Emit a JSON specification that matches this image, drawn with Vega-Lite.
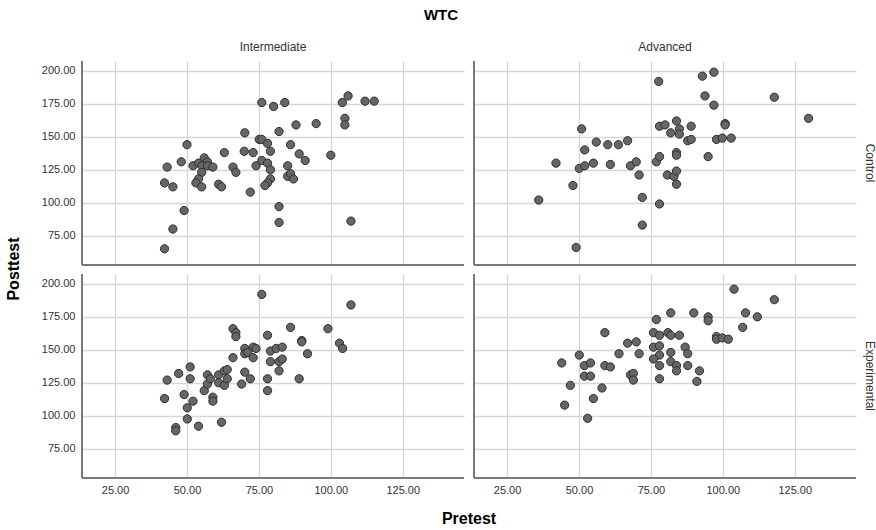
{
  "$schema": "https://vega.github.io/schema/vega-lite/v6.json",
  "background": "white",
  "padding": {"left": 5, "top": 8, "right": 5, "bottom": 5},
  "title": {"text": "WTC", "fontSize": 15, "fontWeight": "bold", "font": "Liberation Sans", "color": "#000000", "anchor": "middle", "offset": 18},
  "datasets": {
    "pts": [
      {"Level":"Intermediate","Group":"Control","Pretest":42.2,"Posttest":65},
      {"Level":"Intermediate","Group":"Control","Pretest":45.1,"Posttest":80},
      {"Level":"Intermediate","Group":"Control","Pretest":49,"Posttest":94},
      {"Level":"Intermediate","Group":"Control","Pretest":42.2,"Posttest":115},
      {"Level":"Intermediate","Group":"Control","Pretest":45.1,"Posttest":112},
      {"Level":"Intermediate","Group":"Control","Pretest":43.1,"Posttest":127},
      {"Level":"Intermediate","Group":"Control","Pretest":48,"Posttest":131},
      {"Level":"Intermediate","Group":"Control","Pretest":50,"Posttest":144},
      {"Level":"Intermediate","Group":"Control","Pretest":52.1,"Posttest":128},
      {"Level":"Intermediate","Group":"Control","Pretest":54,"Posttest":130},
      {"Level":"Intermediate","Group":"Control","Pretest":56,"Posttest":134},
      {"Level":"Intermediate","Group":"Control","Pretest":57.1,"Posttest":131},
      {"Level":"Intermediate","Group":"Control","Pretest":55.2,"Posttest":128},
      {"Level":"Intermediate","Group":"Control","Pretest":57.1,"Posttest":128},
      {"Level":"Intermediate","Group":"Control","Pretest":59,"Posttest":127},
      {"Level":"Intermediate","Group":"Control","Pretest":55.1,"Posttest":123},
      {"Level":"Intermediate","Group":"Control","Pretest":54,"Posttest":118},
      {"Level":"Intermediate","Group":"Control","Pretest":53.1,"Posttest":115},
      {"Level":"Intermediate","Group":"Control","Pretest":55.1,"Posttest":112},
      {"Level":"Intermediate","Group":"Control","Pretest":61,"Posttest":114},
      {"Level":"Intermediate","Group":"Control","Pretest":62,"Posttest":112},
      {"Level":"Intermediate","Group":"Control","Pretest":63,"Posttest":138},
      {"Level":"Intermediate","Group":"Control","Pretest":66,"Posttest":127},
      {"Level":"Intermediate","Group":"Control","Pretest":67,"Posttest":123},
      {"Level":"Intermediate","Group":"Control","Pretest":72,"Posttest":108},
      {"Level":"Intermediate","Group":"Control","Pretest":70.1,"Posttest":153},
      {"Level":"Intermediate","Group":"Control","Pretest":69.9,"Posttest":139},
      {"Level":"Intermediate","Group":"Control","Pretest":73,"Posttest":138},
      {"Level":"Intermediate","Group":"Control","Pretest":74,"Posttest":128},
      {"Level":"Intermediate","Group":"Control","Pretest":75.1,"Posttest":148},
      {"Level":"Intermediate","Group":"Control","Pretest":76,"Posttest":148},
      {"Level":"Intermediate","Group":"Control","Pretest":76,"Posttest":132},
      {"Level":"Intermediate","Group":"Control","Pretest":76,"Posttest":176},
      {"Level":"Intermediate","Group":"Control","Pretest":80.1,"Posttest":173},
      {"Level":"Intermediate","Group":"Control","Pretest":84,"Posttest":176},
      {"Level":"Intermediate","Group":"Control","Pretest":78,"Posttest":145},
      {"Level":"Intermediate","Group":"Control","Pretest":79,"Posttest":139},
      {"Level":"Intermediate","Group":"Control","Pretest":78,"Posttest":130},
      {"Level":"Intermediate","Group":"Control","Pretest":79,"Posttest":125},
      {"Level":"Intermediate","Group":"Control","Pretest":79,"Posttest":118},
      {"Level":"Intermediate","Group":"Control","Pretest":78,"Posttest":115},
      {"Level":"Intermediate","Group":"Control","Pretest":77.1,"Posttest":113},
      {"Level":"Intermediate","Group":"Control","Pretest":82,"Posttest":154},
      {"Level":"Intermediate","Group":"Control","Pretest":82,"Posttest":97},
      {"Level":"Intermediate","Group":"Control","Pretest":82,"Posttest":85},
      {"Level":"Intermediate","Group":"Control","Pretest":85,"Posttest":128},
      {"Level":"Intermediate","Group":"Control","Pretest":85,"Posttest":120},
      {"Level":"Intermediate","Group":"Control","Pretest":86,"Posttest":122},
      {"Level":"Intermediate","Group":"Control","Pretest":87,"Posttest":118},
      {"Level":"Intermediate","Group":"Control","Pretest":86,"Posttest":144},
      {"Level":"Intermediate","Group":"Control","Pretest":87.9,"Posttest":159},
      {"Level":"Intermediate","Group":"Control","Pretest":89,"Posttest":137},
      {"Level":"Intermediate","Group":"Control","Pretest":91.1,"Posttest":132},
      {"Level":"Intermediate","Group":"Control","Pretest":94.9,"Posttest":160},
      {"Level":"Intermediate","Group":"Control","Pretest":100,"Posttest":136},
      {"Level":"Intermediate","Group":"Control","Pretest":104,"Posttest":176},
      {"Level":"Intermediate","Group":"Control","Pretest":106,"Posttest":181},
      {"Level":"Intermediate","Group":"Control","Pretest":104.9,"Posttest":164},
      {"Level":"Intermediate","Group":"Control","Pretest":104.9,"Posttest":159},
      {"Level":"Intermediate","Group":"Control","Pretest":107,"Posttest":86},
      {"Level":"Intermediate","Group":"Control","Pretest":111.9,"Posttest":177},
      {"Level":"Intermediate","Group":"Control","Pretest":115.1,"Posttest":177},
      {"Level":"Advanced","Group":"Control","Pretest":36,"Posttest":102},
      {"Level":"Advanced","Group":"Control","Pretest":42,"Posttest":130},
      {"Level":"Advanced","Group":"Control","Pretest":47.9,"Posttest":113},
      {"Level":"Advanced","Group":"Control","Pretest":49,"Posttest":66},
      {"Level":"Advanced","Group":"Control","Pretest":50.1,"Posttest":126},
      {"Level":"Advanced","Group":"Control","Pretest":50.9,"Posttest":156},
      {"Level":"Advanced","Group":"Control","Pretest":52,"Posttest":140},
      {"Level":"Advanced","Group":"Control","Pretest":52,"Posttest":128},
      {"Level":"Advanced","Group":"Control","Pretest":55,"Posttest":130},
      {"Level":"Advanced","Group":"Control","Pretest":56,"Posttest":146},
      {"Level":"Advanced","Group":"Control","Pretest":60,"Posttest":144},
      {"Level":"Advanced","Group":"Control","Pretest":60.9,"Posttest":129},
      {"Level":"Advanced","Group":"Control","Pretest":63.7,"Posttest":144},
      {"Level":"Advanced","Group":"Control","Pretest":66.9,"Posttest":147},
      {"Level":"Advanced","Group":"Control","Pretest":67.9,"Posttest":128},
      {"Level":"Advanced","Group":"Control","Pretest":69.9,"Posttest":131},
      {"Level":"Advanced","Group":"Control","Pretest":70.9,"Posttest":121},
      {"Level":"Advanced","Group":"Control","Pretest":72,"Posttest":104},
      {"Level":"Advanced","Group":"Control","Pretest":72,"Posttest":83},
      {"Level":"Advanced","Group":"Control","Pretest":76.9,"Posttest":131},
      {"Level":"Advanced","Group":"Control","Pretest":78,"Posttest":135},
      {"Level":"Advanced","Group":"Control","Pretest":78,"Posttest":99},
      {"Level":"Advanced","Group":"Control","Pretest":77.7,"Posttest":192},
      {"Level":"Advanced","Group":"Control","Pretest":78,"Posttest":158},
      {"Level":"Advanced","Group":"Control","Pretest":79.9,"Posttest":159},
      {"Level":"Advanced","Group":"Control","Pretest":80.7,"Posttest":121},
      {"Level":"Advanced","Group":"Control","Pretest":81.9,"Posttest":153},
      {"Level":"Advanced","Group":"Control","Pretest":83,"Posttest":120},
      {"Level":"Advanced","Group":"Control","Pretest":83.9,"Posttest":124},
      {"Level":"Advanced","Group":"Control","Pretest":83.9,"Posttest":114},
      {"Level":"Advanced","Group":"Control","Pretest":83.9,"Posttest":162},
      {"Level":"Advanced","Group":"Control","Pretest":84.9,"Posttest":156},
      {"Level":"Advanced","Group":"Control","Pretest":84.9,"Posttest":152},
      {"Level":"Advanced","Group":"Control","Pretest":83.9,"Posttest":138},
      {"Level":"Advanced","Group":"Control","Pretest":83.9,"Posttest":136},
      {"Level":"Advanced","Group":"Control","Pretest":87.8,"Posttest":147},
      {"Level":"Advanced","Group":"Control","Pretest":89,"Posttest":148},
      {"Level":"Advanced","Group":"Control","Pretest":89,"Posttest":158},
      {"Level":"Advanced","Group":"Control","Pretest":92.9,"Posttest":196},
      {"Level":"Advanced","Group":"Control","Pretest":96.9,"Posttest":199},
      {"Level":"Advanced","Group":"Control","Pretest":93.8,"Posttest":181},
      {"Level":"Advanced","Group":"Control","Pretest":96.9,"Posttest":174},
      {"Level":"Advanced","Group":"Control","Pretest":94.9,"Posttest":135},
      {"Level":"Advanced","Group":"Control","Pretest":97.8,"Posttest":148},
      {"Level":"Advanced","Group":"Control","Pretest":99.8,"Posttest":149},
      {"Level":"Advanced","Group":"Control","Pretest":102.9,"Posttest":149},
      {"Level":"Advanced","Group":"Control","Pretest":100.8,"Posttest":160},
      {"Level":"Advanced","Group":"Control","Pretest":100.8,"Posttest":159},
      {"Level":"Advanced","Group":"Control","Pretest":117.9,"Posttest":180},
      {"Level":"Advanced","Group":"Control","Pretest":129.8,"Posttest":164},
      {"Level":"Intermediate","Group":"Experimental","Pretest":42.2,"Posttest":113},
      {"Level":"Intermediate","Group":"Experimental","Pretest":43.1,"Posttest":127},
      {"Level":"Intermediate","Group":"Experimental","Pretest":46.1,"Posttest":91},
      {"Level":"Intermediate","Group":"Experimental","Pretest":46.1,"Posttest":88.5},
      {"Level":"Intermediate","Group":"Experimental","Pretest":47.1,"Posttest":132},
      {"Level":"Intermediate","Group":"Experimental","Pretest":49,"Posttest":116},
      {"Level":"Intermediate","Group":"Experimental","Pretest":50.1,"Posttest":106},
      {"Level":"Intermediate","Group":"Experimental","Pretest":50.1,"Posttest":97.5},
      {"Level":"Intermediate","Group":"Experimental","Pretest":51.1,"Posttest":137},
      {"Level":"Intermediate","Group":"Experimental","Pretest":51.1,"Posttest":128},
      {"Level":"Intermediate","Group":"Experimental","Pretest":52.1,"Posttest":111},
      {"Level":"Intermediate","Group":"Experimental","Pretest":54,"Posttest":92},
      {"Level":"Intermediate","Group":"Experimental","Pretest":56,"Posttest":119},
      {"Level":"Intermediate","Group":"Experimental","Pretest":57.1,"Posttest":124},
      {"Level":"Intermediate","Group":"Experimental","Pretest":57.1,"Posttest":131},
      {"Level":"Intermediate","Group":"Experimental","Pretest":58.1,"Posttest":128},
      {"Level":"Intermediate","Group":"Experimental","Pretest":59,"Posttest":114},
      {"Level":"Intermediate","Group":"Experimental","Pretest":59,"Posttest":111},
      {"Level":"Intermediate","Group":"Experimental","Pretest":61,"Posttest":131},
      {"Level":"Intermediate","Group":"Experimental","Pretest":61,"Posttest":125},
      {"Level":"Intermediate","Group":"Experimental","Pretest":62,"Posttest":95},
      {"Level":"Intermediate","Group":"Experimental","Pretest":63,"Posttest":134},
      {"Level":"Intermediate","Group":"Experimental","Pretest":64,"Posttest":135},
      {"Level":"Intermediate","Group":"Experimental","Pretest":63,"Posttest":123},
      {"Level":"Intermediate","Group":"Experimental","Pretest":64,"Posttest":128},
      {"Level":"Intermediate","Group":"Experimental","Pretest":66,"Posttest":144},
      {"Level":"Intermediate","Group":"Experimental","Pretest":66,"Posttest":166},
      {"Level":"Intermediate","Group":"Experimental","Pretest":67,"Posttest":163},
      {"Level":"Intermediate","Group":"Experimental","Pretest":67,"Posttest":160},
      {"Level":"Intermediate","Group":"Experimental","Pretest":69,"Posttest":124},
      {"Level":"Intermediate","Group":"Experimental","Pretest":70.1,"Posttest":133},
      {"Level":"Intermediate","Group":"Experimental","Pretest":70.1,"Posttest":151},
      {"Level":"Intermediate","Group":"Experimental","Pretest":70.1,"Posttest":147},
      {"Level":"Intermediate","Group":"Experimental","Pretest":71.1,"Posttest":148},
      {"Level":"Intermediate","Group":"Experimental","Pretest":72,"Posttest":128},
      {"Level":"Intermediate","Group":"Experimental","Pretest":73,"Posttest":152},
      {"Level":"Intermediate","Group":"Experimental","Pretest":74,"Posttest":151},
      {"Level":"Intermediate","Group":"Experimental","Pretest":73,"Posttest":144},
      {"Level":"Intermediate","Group":"Experimental","Pretest":76,"Posttest":192},
      {"Level":"Intermediate","Group":"Experimental","Pretest":78,"Posttest":161},
      {"Level":"Intermediate","Group":"Experimental","Pretest":78,"Posttest":128},
      {"Level":"Intermediate","Group":"Experimental","Pretest":78,"Posttest":119},
      {"Level":"Intermediate","Group":"Experimental","Pretest":79,"Posttest":149},
      {"Level":"Intermediate","Group":"Experimental","Pretest":79,"Posttest":141},
      {"Level":"Intermediate","Group":"Experimental","Pretest":81,"Posttest":151},
      {"Level":"Intermediate","Group":"Experimental","Pretest":83.1,"Posttest":152},
      {"Level":"Intermediate","Group":"Experimental","Pretest":82,"Posttest":141},
      {"Level":"Intermediate","Group":"Experimental","Pretest":83.1,"Posttest":143},
      {"Level":"Intermediate","Group":"Experimental","Pretest":82,"Posttest":134},
      {"Level":"Intermediate","Group":"Experimental","Pretest":86,"Posttest":167},
      {"Level":"Intermediate","Group":"Experimental","Pretest":89,"Posttest":128},
      {"Level":"Intermediate","Group":"Experimental","Pretest":89.9,"Posttest":157},
      {"Level":"Intermediate","Group":"Experimental","Pretest":89.9,"Posttest":156},
      {"Level":"Intermediate","Group":"Experimental","Pretest":91.9,"Posttest":147},
      {"Level":"Intermediate","Group":"Experimental","Pretest":99,"Posttest":166},
      {"Level":"Intermediate","Group":"Experimental","Pretest":103,"Posttest":155},
      {"Level":"Intermediate","Group":"Experimental","Pretest":104.1,"Posttest":151},
      {"Level":"Intermediate","Group":"Experimental","Pretest":107,"Posttest":184},
      {"Level":"Advanced","Group":"Experimental","Pretest":44,"Posttest":140},
      {"Level":"Advanced","Group":"Experimental","Pretest":45,"Posttest":108},
      {"Level":"Advanced","Group":"Experimental","Pretest":47,"Posttest":123},
      {"Level":"Advanced","Group":"Experimental","Pretest":50.1,"Posttest":146},
      {"Level":"Advanced","Group":"Experimental","Pretest":51.9,"Posttest":138},
      {"Level":"Advanced","Group":"Experimental","Pretest":51.9,"Posttest":130},
      {"Level":"Advanced","Group":"Experimental","Pretest":53,"Posttest":98},
      {"Level":"Advanced","Group":"Experimental","Pretest":54,"Posttest":140},
      {"Level":"Advanced","Group":"Experimental","Pretest":54,"Posttest":130},
      {"Level":"Advanced","Group":"Experimental","Pretest":55,"Posttest":113},
      {"Level":"Advanced","Group":"Experimental","Pretest":58,"Posttest":121},
      {"Level":"Advanced","Group":"Experimental","Pretest":59,"Posttest":138},
      {"Level":"Advanced","Group":"Experimental","Pretest":60.9,"Posttest":137},
      {"Level":"Advanced","Group":"Experimental","Pretest":59,"Posttest":163},
      {"Level":"Advanced","Group":"Experimental","Pretest":63.9,"Posttest":147},
      {"Level":"Advanced","Group":"Experimental","Pretest":66.9,"Posttest":155},
      {"Level":"Advanced","Group":"Experimental","Pretest":69.9,"Posttest":156},
      {"Level":"Advanced","Group":"Experimental","Pretest":70.9,"Posttest":147},
      {"Level":"Advanced","Group":"Experimental","Pretest":67.9,"Posttest":131},
      {"Level":"Advanced","Group":"Experimental","Pretest":68.9,"Posttest":132},
      {"Level":"Advanced","Group":"Experimental","Pretest":68.9,"Posttest":127},
      {"Level":"Advanced","Group":"Experimental","Pretest":75.9,"Posttest":163},
      {"Level":"Advanced","Group":"Experimental","Pretest":76.9,"Posttest":173},
      {"Level":"Advanced","Group":"Experimental","Pretest":75.9,"Posttest":152},
      {"Level":"Advanced","Group":"Experimental","Pretest":78,"Posttest":153},
      {"Level":"Advanced","Group":"Experimental","Pretest":78,"Posttest":146},
      {"Level":"Advanced","Group":"Experimental","Pretest":75.9,"Posttest":143},
      {"Level":"Advanced","Group":"Experimental","Pretest":78,"Posttest":138},
      {"Level":"Advanced","Group":"Experimental","Pretest":78,"Posttest":128},
      {"Level":"Advanced","Group":"Experimental","Pretest":78,"Posttest":161},
      {"Level":"Advanced","Group":"Experimental","Pretest":80.9,"Posttest":163},
      {"Level":"Advanced","Group":"Experimental","Pretest":81.9,"Posttest":161},
      {"Level":"Advanced","Group":"Experimental","Pretest":81.9,"Posttest":178},
      {"Level":"Advanced","Group":"Experimental","Pretest":81.9,"Posttest":148},
      {"Level":"Advanced","Group":"Experimental","Pretest":81.9,"Posttest":141},
      {"Level":"Advanced","Group":"Experimental","Pretest":83.9,"Posttest":138},
      {"Level":"Advanced","Group":"Experimental","Pretest":83.9,"Posttest":134},
      {"Level":"Advanced","Group":"Experimental","Pretest":84.9,"Posttest":161},
      {"Level":"Advanced","Group":"Experimental","Pretest":86.9,"Posttest":152},
      {"Level":"Advanced","Group":"Experimental","Pretest":87.8,"Posttest":147},
      {"Level":"Advanced","Group":"Experimental","Pretest":87.8,"Posttest":138},
      {"Level":"Advanced","Group":"Experimental","Pretest":89.9,"Posttest":178},
      {"Level":"Advanced","Group":"Experimental","Pretest":91.9,"Posttest":134},
      {"Level":"Advanced","Group":"Experimental","Pretest":91,"Posttest":126},
      {"Level":"Advanced","Group":"Experimental","Pretest":94.9,"Posttest":175},
      {"Level":"Advanced","Group":"Experimental","Pretest":94.9,"Posttest":172},
      {"Level":"Advanced","Group":"Experimental","Pretest":97.8,"Posttest":160},
      {"Level":"Advanced","Group":"Experimental","Pretest":97.8,"Posttest":158},
      {"Level":"Advanced","Group":"Experimental","Pretest":99.8,"Posttest":159},
      {"Level":"Advanced","Group":"Experimental","Pretest":101.9,"Posttest":158},
      {"Level":"Advanced","Group":"Experimental","Pretest":103.9,"Posttest":196},
      {"Level":"Advanced","Group":"Experimental","Pretest":106.9,"Posttest":167},
      {"Level":"Advanced","Group":"Experimental","Pretest":107.9,"Posttest":178},
      {"Level":"Advanced","Group":"Experimental","Pretest":112,"Posttest":175},
      {"Level":"Advanced","Group":"Experimental","Pretest":117.9,"Posttest":188}
    ]
  },
  "data": {"name": "pts"},
  "facet": {
    "column": {"field": "Level", "type": "nominal", "sort": ["Intermediate", "Advanced"],
      "header": {"title": "Pretest", "titleOrient": "bottom", "titleFont": "Liberation Sans", "titleFontSize": 16, "titleFontWeight": "bold", "titleColor": "#000000", "titlePadding": 6,
        "labelOrient": "top", "labelFont": "Liberation Sans", "labelFontSize": 12, "labelColor": "#333333", "labelPadding": 6}},
    "row": {"field": "Group", "type": "nominal", "sort": ["Control", "Experimental"],
      "header": {"title": "Posttest", "titleOrient": "left", "titleAngle": -90, "titleFont": "Liberation Sans", "titleFontSize": 16, "titleFontWeight": "bold", "titleColor": "#000000", "titlePadding": -7,
        "labelOrient": "right", "labelAngle": 90, "labelFont": "Liberation Sans", "labelFontSize": 12, "labelColor": "#333333", "labelPadding": 6}}
  },
  "spacing": {"column": 8, "row": 7},
  "spec": {
    "width": 382,
    "height": 204,
    "layer": [
      {
        "mark": {"type": "rule", "color": "#7a7a7a", "strokeWidth": 1.3},
        "encoding": {"x": {"datum": 13.5, "type": "quantitative"}}
      },
      {
        "mark": {"type": "rule", "color": "#7a7a7a", "strokeWidth": 1.3},
        "encoding": {"y": {"datum": 52.7, "type": "quantitative"}}
      },
      {
        "mark": {"type": "circle", "size": 68, "fill": "#666666", "stroke": "#2e2e2e", "strokeWidth": 1, "opacity": 1},
        "encoding": {
          "x": {"field": "Pretest", "type": "quantitative",
            "scale": {"domain": [13.5, 146.3], "nice": false, "zero": false},
            "axis": {"title": null, "values": [25, 50, 75, 100, 125], "format": ".2f"}},
          "y": {"field": "Posttest", "type": "quantitative",
            "scale": {"domain": [52.7, 207.5], "nice": false, "zero": false},
            "axis": {"title": null, "values": [75, 100, 125, 150, 175, 200], "format": ".2f"}}
        }
      }
    ]
  },
  "config": {
    "view": {"stroke": null},
    "font": "Liberation Sans",
    "axis": {
      "domain": false,
      "ticks": false,
      "grid": true,
      "gridColor": "#d6d6d6",
      "gridWidth": 1.3,
      "labelFont": "Liberation Sans",
      "labelFontSize": 11,
      "labelColor": "#333333"
    },
    "axisX": {"labelPadding": 5},
    "axisY": {"labelPadding": 6}
  }
}
